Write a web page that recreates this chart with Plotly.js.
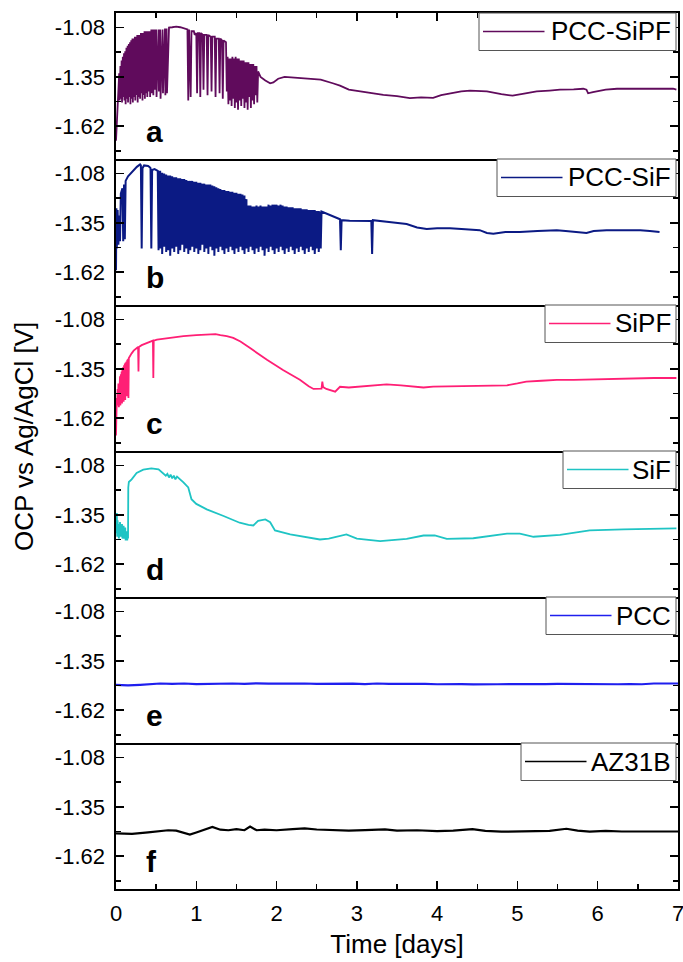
<!DOCTYPE html>
<html>
<head>
<meta charset="utf-8">
<script src="https://cdn.plot.ly/plotly-3.0.1.min.js"></script>
<style>html,body{margin:0;padding:0;background:#fff;}#chart{width:683px;height:962px;}</style>
</head>
<body>
<div id="chart"></div>
<script>
// ---------------- DATA ----------------
const seriesNames = ['PCC-SiPF', 'PCC-SiF', 'SiPF', 'SiF', 'PCC', 'AZ31B'];
const panelLabels = ['a', 'b', 'c', 'd', 'e', 'f'];
const yTickVals = [-1.08, -1.35, -1.62];
const yTickText = ['-1.08', '-1.35', '-1.62'];
const yMinorTickVals = [-1.215, -1.485, -1.755];
const xTickVals = [0, 1, 2, 3, 4, 5, 6, 7];
const xTickText = ['0', '1', '2', '3', '4', '5', '6', '7'];

// [time (days), OCP (V)]
const pccSiPF = [
[0.00,-1.70],[0.01,-1.58],[0.02,-1.49],[0.03,-1.45],
[0.04,-1.33],[0.045,-1.48],[0.055,-1.29],[0.06,-1.47],[0.07,-1.26],[0.075,-1.49],[0.085,-1.24],[0.09,-1.46],
[0.10,-1.22],[0.105,-1.48],[0.115,-1.21],[0.12,-1.50],[0.13,-1.19],[0.135,-1.47],[0.145,-1.18],[0.15,-1.49],
[0.16,-1.17],[0.165,-1.46],[0.175,-1.16],[0.18,-1.50],[0.19,-1.15],[0.195,-1.47],[0.205,-1.14],[0.21,-1.49],
[0.22,-1.14],[0.225,-1.46],[0.235,-1.13],[0.24,-1.48],[0.25,-1.13],[0.255,-1.45],[0.265,-1.12],[0.27,-1.49],
[0.28,-1.12],[0.285,-1.46],[0.295,-1.12],[0.30,-1.47],[0.31,-1.11],[0.315,-1.44],[0.325,-1.11],[0.33,-1.48],
[0.34,-1.11],[0.345,-1.45],[0.355,-1.10],[0.36,-1.47],[0.37,-1.10],[0.375,-1.44],[0.385,-1.10],[0.39,-1.46],
[0.40,-1.10],[0.405,-1.43],[0.42,-1.10],[0.425,-1.46],[0.44,-1.09],[0.445,-1.44],[0.46,-1.09],[0.465,-1.45],
[0.48,-1.09],[0.485,-1.42],[0.50,-1.09],[0.505,-1.46],[0.53,-1.09],[0.535,-1.43],[0.55,-1.09],[0.555,-1.47],
[0.58,-1.09],[0.585,-1.44],[0.61,-1.085],[0.615,-1.45],[0.63,-1.085],[0.635,-1.44],[0.66,-1.08],
[0.70,-1.078],[0.75,-1.075],[0.80,-1.078],[0.85,-1.085],[0.89,-1.09],
[0.90,-1.48],[0.91,-1.09],[0.93,-1.46],[0.94,-1.10],[0.97,-1.10],[0.98,-1.12],[1.00,-1.11],[1.01,-1.44],
[1.02,-1.11],[1.04,-1.11],[1.05,-1.46],[1.06,-1.11],[1.08,-1.12],[1.09,-1.42],[1.10,-1.12],[1.13,-1.12],
[1.14,-1.45],[1.15,-1.12],[1.18,-1.13],[1.19,-1.43],[1.20,-1.13],[1.23,-1.13],[1.24,-1.46],[1.25,-1.14],
[1.28,-1.14],[1.29,-1.44],[1.30,-1.14],[1.32,-1.15],[1.33,-1.47],[1.34,-1.15],[1.37,-1.16],[1.38,-1.43],
[1.39,-1.24],[1.40,-1.50],[1.41,-1.25],[1.42,-1.48],[1.43,-1.25],[1.44,-1.51],[1.45,-1.24],[1.46,-1.47],
[1.47,-1.25],[1.48,-1.52],[1.49,-1.24],[1.50,-1.49],[1.51,-1.25],[1.52,-1.53],[1.53,-1.25],[1.54,-1.48],
[1.55,-1.26],[1.56,-1.51],[1.57,-1.26],[1.58,-1.47],[1.59,-1.26],[1.60,-1.52],[1.61,-1.27],[1.62,-1.49],
[1.63,-1.27],[1.64,-1.53],[1.65,-1.27],[1.66,-1.46],[1.67,-1.28],[1.68,-1.52],[1.69,-1.28],[1.70,-1.48],
[1.71,-1.28],[1.72,-1.50],[1.73,-1.29],[1.74,-1.45],[1.75,-1.29],[1.76,-1.49],[1.77,-1.32],
[1.80,-1.35],[1.86,-1.37],[1.92,-1.385],[1.96,-1.38],[2.02,-1.36],[2.10,-1.35],[2.30,-1.355],[2.55,-1.365],
[2.70,-1.385],[2.79,-1.398],[2.90,-1.42],[3.04,-1.43],[3.20,-1.44],[3.33,-1.449],[3.50,-1.455],[3.66,-1.466],
[3.80,-1.462],[3.95,-1.465],[4.05,-1.45],[4.16,-1.44],[4.30,-1.43],[4.41,-1.425],[4.62,-1.43],[4.80,-1.445],
[4.94,-1.453],[5.10,-1.44],[5.24,-1.43],[5.40,-1.425],[5.53,-1.42],[5.70,-1.418],[5.82,-1.415],[5.86,-1.42],
[5.88,-1.44],[5.94,-1.433],[6.10,-1.42],[6.24,-1.415],[6.50,-1.415],[6.80,-1.414],[6.94,-1.415],[6.98,-1.42]
];

const pccSiFStart = [
[0.00,-1.61],[0.005,-1.27],[0.01,-1.49],[0.02,-1.28],[0.03,-1.47],[0.04,-1.31],[0.05,-1.45],[0.06,-1.19],
[0.08,-1.16],[0.09,-1.45],[0.10,-1.14],[0.11,-1.44],[0.12,-1.12],[0.15,-1.095],[0.20,-1.07],[0.26,-1.043],
[0.30,-1.03],[0.31,-1.035],[0.32,-1.49],[0.33,-1.05],[0.35,-1.035],[0.40,-1.038],[0.42,-1.045],[0.43,-1.05],
[0.44,-1.49],[0.45,-1.06],[0.48,-1.055],[0.50,-1.06],[0.52,-1.065],[0.53,-1.50],[0.54,-1.07]
];
// [time, spike top, spike bottom]
const pccSiFSpikes = [
[0.550,-1.07,-1.49],[0.575,-1.075,-1.52],[0.600,-1.08,-1.48],[0.625,-1.085,-1.51],[0.650,-1.09,-1.50],
[0.675,-1.09,-1.53],[0.700,-1.095,-1.49],[0.725,-1.10,-1.51],[0.750,-1.10,-1.48],[0.775,-1.105,-1.52],
[0.800,-1.105,-1.50],[0.825,-1.11,-1.47],[0.850,-1.11,-1.51],[0.875,-1.115,-1.49],[0.900,-1.12,-1.52],
[0.925,-1.12,-1.50],[0.950,-1.12,-1.48],[0.975,-1.125,-1.51],[1.000,-1.125,-1.49],[1.025,-1.13,-1.52],
[1.050,-1.13,-1.50],[1.075,-1.135,-1.47],[1.100,-1.135,-1.51],[1.125,-1.14,-1.49],[1.150,-1.14,-1.52],
[1.175,-1.14,-1.48],[1.200,-1.145,-1.50],[1.225,-1.15,-1.53],[1.250,-1.155,-1.49],[1.275,-1.16,-1.51],
[1.300,-1.165,-1.48],[1.325,-1.17,-1.50],[1.350,-1.17,-1.52],[1.375,-1.175,-1.49],[1.400,-1.175,-1.51],
[1.425,-1.18,-1.48],[1.450,-1.18,-1.50],[1.475,-1.185,-1.52],[1.500,-1.185,-1.49],[1.525,-1.19,-1.51],
[1.550,-1.19,-1.48],[1.575,-1.195,-1.50],[1.600,-1.20,-1.52],[1.625,-1.22,-1.49],[1.650,-1.255,-1.51],
[1.675,-1.255,-1.48],[1.700,-1.26,-1.50],[1.725,-1.26,-1.52],[1.750,-1.255,-1.49],[1.775,-1.26,-1.51],
[1.800,-1.255,-1.48],[1.825,-1.26,-1.50],[1.850,-1.26,-1.53],[1.875,-1.26,-1.49],[1.900,-1.25,-1.51],
[1.925,-1.255,-1.48],[1.950,-1.25,-1.50],[1.975,-1.25,-1.52],[2.000,-1.25,-1.49],[2.025,-1.255,-1.51],
[2.050,-1.25,-1.48],[2.075,-1.255,-1.50],[2.100,-1.26,-1.52],[2.125,-1.26,-1.49],[2.150,-1.265,-1.51],
[2.175,-1.265,-1.48],[2.200,-1.265,-1.50],[2.225,-1.27,-1.52],[2.250,-1.27,-1.49],[2.275,-1.27,-1.51],
[2.300,-1.27,-1.48],[2.325,-1.275,-1.50],[2.350,-1.275,-1.52],[2.375,-1.275,-1.49],[2.400,-1.28,-1.51],
[2.425,-1.28,-1.48],[2.450,-1.28,-1.50],[2.475,-1.28,-1.52],[2.500,-1.285,-1.49],[2.525,-1.285,-1.51],
[2.550,-1.288,-1.49]
];
const pccSiFTail = [
[2.56,-1.288],[2.65,-1.305],[2.75,-1.325],[2.79,-1.33],[2.80,-1.50],[2.81,-1.335],[2.91,-1.338],[3.10,-1.338],
[3.18,-1.34],[3.19,-1.52],[3.20,-1.335],[3.40,-1.345],[3.62,-1.356],[3.75,-1.375],[3.87,-1.384],[4.00,-1.38],
[4.16,-1.38],[4.35,-1.385],[4.53,-1.39],[4.62,-1.405],[4.70,-1.41],[4.85,-1.40],[5.03,-1.40],[5.25,-1.395],
[5.49,-1.39],[5.60,-1.395],[5.75,-1.40],[5.86,-1.405],[5.95,-1.395],[6.11,-1.39],[6.30,-1.39],[6.53,-1.39],
[6.65,-1.395],[6.77,-1.40]
];

const siPF = [
[0.00,-1.715],[0.005,-1.55],[0.01,-1.51],[0.015,-1.55],[0.02,-1.46],[0.025,-1.54],[0.03,-1.43],[0.035,-1.56],
[0.04,-1.41],[0.045,-1.53],[0.05,-1.39],[0.055,-1.55],[0.06,-1.38],[0.065,-1.52],[0.07,-1.365],[0.075,-1.54],
[0.08,-1.35],[0.085,-1.51],[0.09,-1.34],[0.095,-1.53],[0.10,-1.33],[0.105,-1.50],[0.11,-1.32],[0.115,-1.52],
[0.12,-1.315],[0.125,-1.48],[0.13,-1.31],[0.135,-1.50],[0.14,-1.30],[0.145,-1.46],[0.15,-1.295],[0.155,-1.51],
[0.16,-1.29],[0.17,-1.28],[0.195,-1.265],[0.22,-1.25],[0.26,-1.236],[0.275,-1.23],[0.28,-1.365],[0.285,-1.23],
[0.32,-1.22],[0.38,-1.209],[0.46,-1.195],[0.465,-1.40],[0.47,-1.195],[0.51,-1.19],[0.65,-1.18],[0.84,-1.17],
[1.00,-1.165],[1.17,-1.16],[1.24,-1.16],[1.30,-1.165],[1.38,-1.17],[1.46,-1.18],[1.55,-1.20],[1.67,-1.236],
[1.78,-1.27],[1.88,-1.30],[2.08,-1.356],[2.29,-1.41],[2.40,-1.445],[2.46,-1.46],[2.56,-1.458],[2.57,-1.42],
[2.58,-1.45],[2.62,-1.46],[2.73,-1.475],[2.79,-1.448],[2.90,-1.452],[3.08,-1.445],[3.20,-1.44],[3.37,-1.435],
[3.55,-1.44],[3.70,-1.448],[3.83,-1.452],[3.95,-1.447],[4.20,-1.445],[4.45,-1.445],[4.70,-1.445],[4.87,-1.44],
[5.00,-1.43],[5.11,-1.42],[5.30,-1.415],[5.49,-1.41],[5.70,-1.41],[5.90,-1.408],[6.10,-1.405],[6.36,-1.40],
[6.70,-1.40],[6.98,-1.40]
];

const siF = [
[0.00,-1.36],[0.005,-1.45],[0.01,-1.34],[0.015,-1.47],[0.02,-1.38],[0.025,-1.44],[0.03,-1.40],[0.035,-1.48],
[0.04,-1.41],[0.045,-1.46],[0.05,-1.39],[0.06,-1.47],[0.065,-1.42],[0.07,-1.45],[0.075,-1.40],[0.08,-1.48],
[0.085,-1.43],[0.09,-1.46],[0.095,-1.41],[0.10,-1.48],[0.105,-1.44],[0.11,-1.47],[0.115,-1.42],[0.12,-1.49],
[0.125,-1.45],[0.13,-1.48],[0.135,-1.44],[0.14,-1.49],[0.145,-1.46],[0.15,-1.48],[0.153,-1.20],[0.16,-1.17],
[0.195,-1.155],[0.257,-1.12],[0.34,-1.102],[0.44,-1.095],[0.53,-1.10],[0.57,-1.115],[0.59,-1.126],[0.62,-1.135],
[0.64,-1.125],[0.66,-1.145],[0.68,-1.13],[0.70,-1.15],[0.72,-1.135],[0.74,-1.155],[0.76,-1.14],[0.80,-1.155],
[0.84,-1.172],[0.90,-1.20],[0.94,-1.264],[1.00,-1.29],[1.13,-1.32],[1.34,-1.356],[1.54,-1.393],[1.65,-1.405],
[1.71,-1.408],[1.77,-1.383],[1.86,-1.375],[1.92,-1.39],[1.98,-1.435],[2.17,-1.457],[2.42,-1.476],[2.54,-1.485],
[2.65,-1.48],[2.75,-1.47],[2.87,-1.457],[3.00,-1.48],[3.29,-1.494],[3.62,-1.482],[3.83,-1.463],[3.97,-1.463],
[4.12,-1.482],[4.45,-1.478],[4.87,-1.453],[5.03,-1.453],[5.20,-1.47],[5.53,-1.46],[5.90,-1.435],[6.32,-1.43],
[6.94,-1.424],[6.98,-1.424]
];

const pcc = [
[0.00,-1.482],[0.15,-1.484],[0.30,-1.481],[0.45,-1.478],[0.55,-1.474],[0.70,-1.476],[0.85,-1.474],[1.00,-1.477],
[1.15,-1.475],[1.30,-1.477],[1.45,-1.474],[1.60,-1.476],[1.75,-1.473],[1.90,-1.475],[2.05,-1.474],[2.20,-1.476],
[2.35,-1.474],[2.50,-1.476],[2.65,-1.475],[2.80,-1.477],[2.95,-1.475],[3.10,-1.477],[3.25,-1.474],[3.40,-1.476],
[3.55,-1.475],[3.70,-1.477],[3.85,-1.476],[4.00,-1.478],[4.15,-1.476],[4.30,-1.477],[4.45,-1.479],[4.60,-1.480],
[4.75,-1.478],[4.90,-1.477],[5.05,-1.478],[5.20,-1.476],[5.35,-1.477],[5.50,-1.476],[5.65,-1.477],[5.80,-1.476],
[5.95,-1.478],[6.10,-1.477],[6.25,-1.478],[6.40,-1.477],[6.55,-1.478],[6.70,-1.474],[6.85,-1.473],[7.00,-1.474]
];

const az31b = [
[0.00,-1.495],[0.20,-1.498],[0.40,-1.49],[0.55,-1.485],[0.65,-1.478],[0.75,-1.48],[0.85,-1.495],[0.92,-1.502],
[1.00,-1.49],[1.10,-1.475],[1.20,-1.46],[1.30,-1.475],[1.40,-1.478],[1.50,-1.472],[1.60,-1.478],[1.67,-1.458],
[1.75,-1.478],[1.85,-1.475],[2.00,-1.478],[2.20,-1.472],[2.35,-1.468],[2.50,-1.474],[2.70,-1.478],[2.90,-1.48],
[3.10,-1.477],[3.35,-1.473],[3.50,-1.48],[3.75,-1.478],[4.00,-1.483],[4.20,-1.48],[4.44,-1.472],[4.60,-1.482],
[4.80,-1.486],[5.00,-1.484],[5.20,-1.48],[5.40,-1.482],[5.61,-1.47],[5.75,-1.48],[5.90,-1.486],[6.10,-1.482],
[6.30,-1.485],[6.50,-1.484],[6.70,-1.486],[6.85,-1.484],[7.00,-1.485]
];

// ---------------- BUILD ----------------
function flattenSpikes(spikes) {
  const out = [];
  spikes.forEach(s => { out.push([s[0], s[1]]); out.push([s[0], s[2]]); });
  return out;
}
const pccSiF = pccSiFStart.concat(flattenSpikes(pccSiFSpikes), pccSiFTail);

const allSeries = [pccSiPF, pccSiF, siPF, siF, pcc, az31b];
const colors = ['#600b5c', '#0b1a84', '#ff1f75', '#1fc4c4', '#1f1fee', '#000000'];
const widths = [1.8, 2.0, 1.8, 1.8, 2.2, 2.2];

// legend geometry (px from plot-area left edge / panel top)
const plotW = 562, panelH = 146;
const legBoxLeftPx = [363, 381, 429, 447, 430, 405];

const FONT = 'Liberation Sans, Arial, Helvetica, sans-serif';
const traces = [];
const layout = {
  width: 683, height: 962,
  margin: {l: 116, r: 5, t: 13, b: 73},
  paper_bgcolor: '#fff', plot_bgcolor: '#fff',
  showlegend: false,
  font: {family: FONT, size: 21, color: '#000'},
  shapes: [], annotations: []
};

for (let i = 0; i < 6; i++) {
  const k = i === 0 ? '' : String(i + 1);
  traces.push({
    type: 'scatter', mode: 'lines', name: seriesNames[i],
    x: allSeries[i].map(p => p[0]), y: allSeries[i].map(p => p[1]),
    xaxis: 'x' + k, yaxis: 'y' + k,
    line: {color: colors[i], width: widths[i]}, hoverinfo: 'skip'
  });
  const xa = {
    domain: [0, 1], anchor: 'y' + k, range: [0, 7],
    showline: true, linecolor: '#000', linewidth: 1.6, mirror: (i === 0),
    showgrid: false, zeroline: false, ticks: '', showticklabels: false,
    tickmode: 'array', tickvals: xTickVals, ticktext: xTickText
  };
  if (i === 0 || i === 5) {
    xa.ticks = 'inside'; xa.ticklen = 8; xa.tickwidth = 1.5; xa.tickcolor = '#000';
    xa.minor = {ticks: 'inside', tick0: 0, dtick: 0.5, ticklen: 5, tickwidth: 1.5, tickcolor: '#000'};
  }
  if (i === 0) xa.side = 'top';
  if (i === 5) {
    xa.showticklabels = true;
    xa.ticklabeloverflow = 'allow';
    xa.tickfont = {size: 22, family: FONT, color: '#000'};
    xa.ticklabelstandoff = 4;
    xa.title = {text: 'Time [days]', font: {size: 26, family: FONT, color: '#000'}, standoff: 10};
  }
  layout['xaxis' + k] = xa;
  layout['yaxis' + k] = {
    domain: [1 - (i + 1) / 6, 1 - i / 6], anchor: 'x' + k, range: [-1.8, -1.0],
    tickmode: 'array', tickvals: yTickVals, ticktext: yTickText,
    ticks: 'inside', ticklen: 8, tickwidth: 1.5, tickcolor: '#000',
    mirror: 'ticks', showline: true, linecolor: '#000', linewidth: 1.6,
    showgrid: false, zeroline: false,
    tickfont: {size: 22, family: FONT, color: '#000'}, ticklabelstandoff: 5,
    minor: {tickmode: 'array', tickvals: yMinorTickVals, ticks: 'inside', ticklen: 5, tickwidth: 1.5, tickcolor: '#000'}
  };

  // panel letter
  layout.annotations.push({
    xref: 'x' + k + ' domain', yref: 'y' + k + ' domain', x: 0.05, y: 0.06,
    xanchor: 'left', yanchor: 'bottom', showarrow: false, text: panelLabels[i],
    font: {size: 30, family: FONT, color: '#000', weight: 'bold'}
  });

  // legend box
  const bl = legBoxLeftPx[i] / plotW;
  const boxBottom = 1 - 37.5 / panelH, lineY = 1 - 18.5 / panelH;
  layout.shapes.push({
    type: 'rect', xref: 'x' + k + ' domain', yref: 'y' + k + ' domain',
    x0: bl, x1: 1 - 2 / plotW, y0: boxBottom, y1: 1,
    line: {color: '#555', width: 1}, fillcolor: '#fff', layer: 'above'
  });
  layout.shapes.push({
    type: 'line', xref: 'x' + k + ' domain', yref: 'y' + k + ' domain',
    x0: bl + 4 / plotW, x1: bl + 65.5 / plotW, y0: lineY, y1: lineY,
    line: {color: colors[i], width: 1.6}, layer: 'above'
  });
  layout.annotations.push({
    xref: 'x' + k + ' domain', yref: 'y' + k + ' domain', x: 1 - 5 / plotW, y: lineY,
    xanchor: 'right', yanchor: 'middle', showarrow: false, text: seriesNames[i],
    font: {size: 26, family: FONT, color: '#000'}
  });
}

// shared y title
layout.annotations.push({
  xref: 'paper', yref: 'paper', x: -92 / plotW, y: 0.516, xanchor: 'center', yanchor: 'middle',
  textangle: -90, showarrow: false, text: 'OCP vs Ag/AgCl [V]',
  font: {size: 26, family: FONT, color: '#000'}
});

Plotly.newPlot('chart', traces, layout, {staticPlot: true, displayModeBar: false});
</script>
</body>
</html>
